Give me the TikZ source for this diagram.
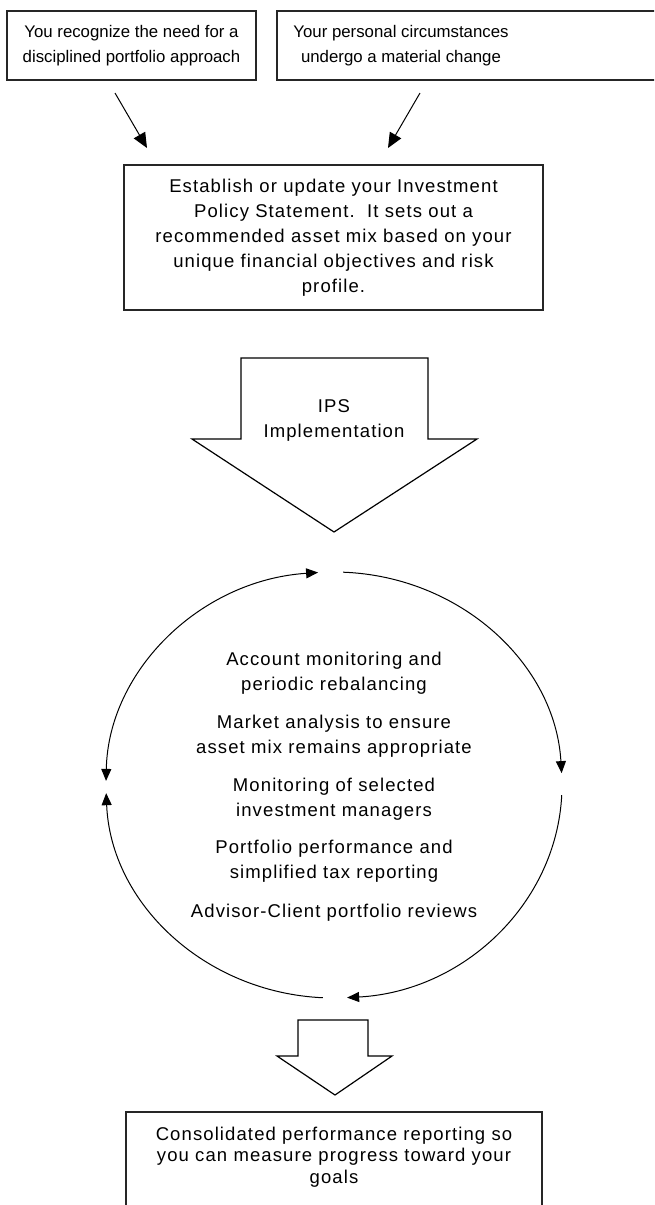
\documentclass[tikz,border=0pt]{standalone}
\usepackage{fontspec}
\setmainfont{Liberation Sans}
\newfontfamily\widef[LetterSpace=6]{Liberation Sans}
\usetikzlibrary{arrows.meta,calc}
\begin{document}
\begin{tikzpicture}[x=1pt,y=1pt,
  box/.style={draw=black!85, line width=1.3pt, inner sep=0pt},
  txt/.style={align=center, inner sep=0pt, font=\widef\fontsize{18.5}{25}\selectfont},
  smalltxt/.style={align=center, inner sep=0pt, font=\fontsize{16.8}{25}\selectfont},
  conn/.style={line width=1pt, -{Triangle[length=15pt,width=13pt]}},
  ring/.style={line width=1pt},
  tipA/.style={-{Triangle[length=12pt,width=10pt]}},
  tipAB/.style={{Triangle[length=12pt,width=10pt]}-{Triangle[length=12pt,width=10pt]}},
  blockarrow/.style={draw=black, line width=1.2pt, fill=white, line join=miter}
]
\useasboundingbox (0,0) rectangle (654,-1205);
\fill[white] (0,0) rectangle (654,-1205);
\clip (0,0) rectangle (654,-1205);

% top boxes
\node[box, minimum width=249pt, minimum height=69pt] (b1) at (131.5,-45.5) {};
\node[smalltxt] (b1t) at (131.5,-45.5) {You recognize the need for a\\disciplined portfolio approach};
\node[box, minimum width=423pt, minimum height=69pt] (b2) at (488.5,-45.5) {};
\node[smalltxt] (b2t) at (401,-45.5) {Your personal circumstances\\undergo a material change};

% IPS box
\node[box, minimum width=419pt, minimum height=145pt] (b3) at (333.5,-237.5) {};
\node[txt] (b3t) at (333.5,-238) {Establish or update your Investment\\Policy Statement.\ \ It sets out a\\recommended asset mix based on your\\unique financial objectives and risk\\profile.};

% connectors from top boxes
\coordinate (a1s) at (115,-93);
\coordinate (a1e) at (147,-148);
\coordinate (a2s) at (420,-93);
\coordinate (a2e) at (388,-148);
\draw[conn] (a1s) -- (a1e);
\draw[conn] (a2s) -- (a2e);

% big block arrow
\draw[blockarrow] (241,-358) -- (428,-358) -- (428,-439) -- (477,-439) -- (334,-532) -- (192,-439) -- (241,-439) -- cycle;
\node[txt] (ips) at (334,-420) {IPS\\Implementation};

% cycle ring
\coordinate (c) at (334,-785);
\draw[ring, tipAB] ($(c)+(178.9:228 and 213)$) arc[start angle=178.9, end angle=94, x radius=228, y radius=213];
\draw[ring, tipA] ($(c)+(87.7:228 and 213)$) arc[start angle=87.7, end angle=3.2, x radius=228, y radius=213];
\draw[ring, tipA] ($(c)+(-2.7:228 and 213)$) arc[start angle=-2.7, end angle=-86.7, x radius=228, y radius=213];
\draw[ring, tipA] ($(c)+(267.2:228 and 213)$) arc[start angle=267.2, end angle=182.2, x radius=228, y radius=213];

% ring texts
\node[txt] (m1) at (334,-673) {Account monitoring and\\periodic rebalancing};
\node[txt] (m2) at (334,-736) {Market analysis to ensure\\asset mix remains appropriate};
\node[txt] (m3) at (334,-799) {Monitoring of selected\\investment managers};
\node[txt] (m4) at (334,-861) {Portfolio performance and\\simplified tax reporting};
\node[txt] (m5) at (334,-913) {Advisor-Client portfolio reviews};

% small block arrow
\draw[blockarrow] (298,-1020) -- (368,-1020) -- (368,-1056) -- (392,-1056) -- (335,-1095) -- (277,-1056) -- (298,-1056) -- cycle;

% final box
\node[box, minimum width=416pt, minimum height=150pt] (b4) at (334,-1187) {};
\node[txt, font=\widef\fontsize{18.5}{21.5}\selectfont] (b4t) at (334,-1157) {Consolidated performance reporting so\\you can measure progress toward your\\goals};
\end{tikzpicture}
\end{document}
